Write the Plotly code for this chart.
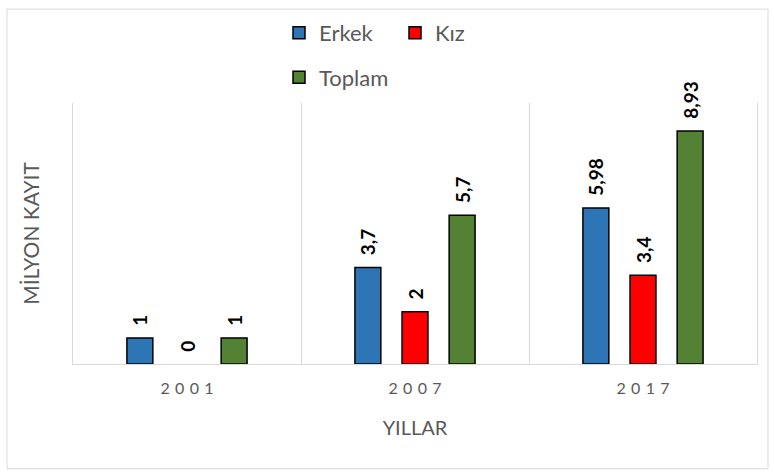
import plotly.graph_objects as go

years = ["2001", "2007", "2017"]
SP = "\u2004"
year_ticks = [SP.join(y) for y in years]
erkek = [1, 3.7, 5.98]
kiz = [0, 2, 3.4]
toplam = [1, 5.7, 8.93]

series = [
    ("Erkek", erkek, "#2E75B6", "legend"),
    ("Kız", kiz, "#FF0000", "legend"),
    ("Toplam", toplam, "#548235", "legend2"),
]

FONT = "Lato, 'Open Sans', sans-serif"
GRAY = "#595959"

W, H = 774, 475
L, R, T, B = 73, 17, 100, 111
pw, ph = W - L - R, H - T - B

def px_x(x):
    return (x - L) / pw

def px_y(y):
    return (H - B - y) / ph

fig = go.Figure()
for name, vals, color, lg in series:
    has_zero = any(v == 0 for v in vals)
    fig.add_trace(go.Bar(
        name=name, x=years, y=vals, offsetgroup=name,
        marker=dict(color=color,
                    line=dict(color="#000000", width=[1.5 if v else 0 for v in vals])),
        text=["\u00a0\u00a0" + str(v).replace(".", ",") for v in vals],
        textposition="outside", textangle=-90, constraintext="none",
        textfont=dict(family=FONT, size=19, color="#000000", weight="bold"),
        cliponaxis=False,
        legend=lg, legendgroup=name, showlegend=not has_zero,
        legendrank={"Erkek": 1, "Kız": 2, "Toplam": 3}[name],
    ))
    if has_zero:
        # legend-only entry so the legend swatch keeps its black outline
        fig.add_trace(go.Bar(
            name=name, x=[None], y=[None], offsetgroup=name,
            marker=dict(color=color, line=dict(color="#000000", width=1.5)),
            legend=lg, legendgroup=name, showlegend=True, hoverinfo="skip",
            legendrank={"Erkek": 1, "Kız": 2, "Toplam": 3}[name],
        ))

fig.update_layout(
    width=W, height=H,
    margin=dict(l=L, r=R, t=T, b=B),
    paper_bgcolor="white", plot_bgcolor="white",
    barmode="group", bargap=0.38, bargroupgap=0.45,
    font=dict(family=FONT, color=GRAY),
    legend=dict(orientation="h", x=px_x(279), y=px_y(8), xanchor="left", yanchor="top",
                font=dict(size=22, color=GRAY), itemwidth=30,
                entrywidth=71, entrywidthmode="pixels", bgcolor="rgba(0,0,0,0)"),
    legend2=dict(orientation="h", x=px_x(279), y=px_y(53), xanchor="left", yanchor="top",
                 font=dict(size=22, color=GRAY), itemwidth=30, bgcolor="rgba(0,0,0,0)"),
    xaxis=dict(
        tickmode="array", tickvals=years, ticktext=year_ticks,
        tickson="boundaries", ticks="", showgrid=True, gridcolor="#D9D9D9", gridwidth=1,
        showline=True, linecolor="#D9D9D9", linewidth=1, automargin=False,
        tickfont=dict(size=16, color=GRAY), ticklabelstandoff=10,
        title=dict(text="YILLAR", font=dict(size=20, color=GRAY), standoff=24),
    ),
    yaxis=dict(
        range=[0, 10], showgrid=False, showticklabels=False, ticks="", zeroline=False,
        showline=True, mirror=True, linecolor="#D9D9D9", linewidth=1, automargin=False,
        title=dict(text="MİLYON KAYIT", font=dict(size=21, color=GRAY), standoff=26),
    ),
)

fig.add_shape(type="rect", xref="paper", yref="paper",
              x0=px_x(7), x1=px_x(768), y0=px_y(470), y1=px_y(5),
              line=dict(color="#D9D9D9", width=1), layer="above")

fig.write_html("out.html", config={"displayModeBar": False},
               post_script="document.body.style.margin='0';document.body.style.overflow='hidden';")
